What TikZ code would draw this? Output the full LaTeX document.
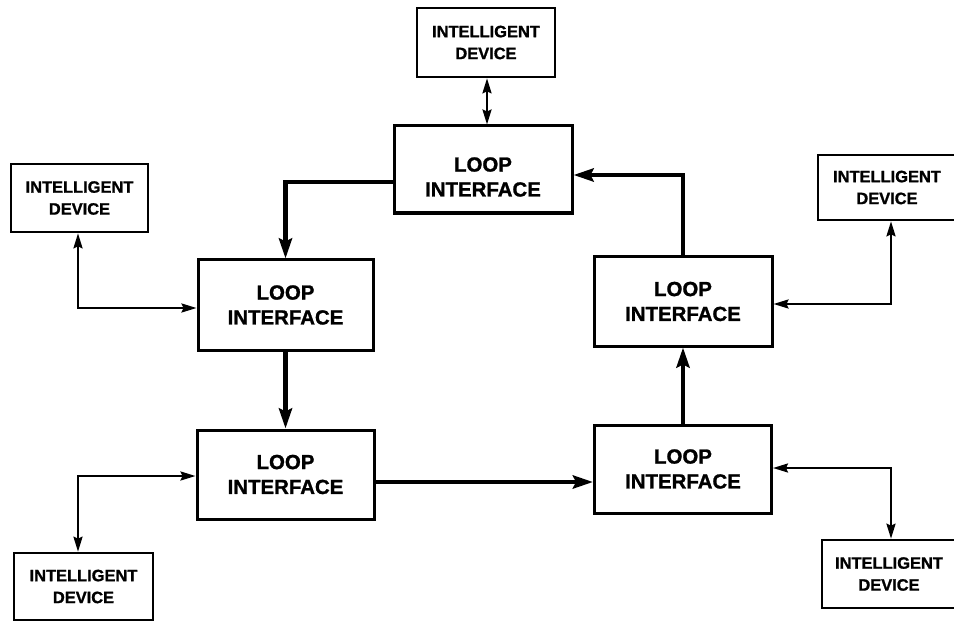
\documentclass[tikz,border=0pt]{standalone}
\usepackage{fontspec}
\setmainfont{Liberation Sans}[BoldFeatures={FakeBold=1.2}]
\usetikzlibrary{arrows.meta}
\begin{document}
\begin{tikzpicture}[x=1bp,y=-1bp,
 loopbox/.style={draw, line width=3bp, align=center, inner sep=0pt, font=\bfseries\fontsize{20.5}{25}\selectfont},
 looptext/.style={align=center, inner sep=0pt, font=\bfseries\fontsize{20.5}{25}\selectfont},
 devbox/.style={draw, line width=2.6bp, align=center, inner sep=0pt, font=\bfseries\fontsize{16.5}{22}\selectfont},
 ring/.style={line width=4.6bp, -{Stealth[length=20bp,width=13bp,inset=3bp]}},
 link/.style={line width=2.3bp, {Stealth[length=15bp,width=9bp,inset=2bp]}-{Stealth[length=15bp,width=9bp,inset=2bp]}}]
\useasboundingbox (0,0) rectangle (954,621);
\fill[white] (0,0) rectangle (954,621);
% loop interfaces
\node[loopbox, minimum width=178bp, minimum height=87bp] (tloop) at (483,169.5) {};
\node[looptext] (tlooptxt) at (483,177) {LOOP\\INTERFACE};
\node[loopbox, minimum width=175bp, minimum height=90bp] (mleft) at (285.5,305) {LOOP\\INTERFACE};
\node[loopbox, minimum width=177bp, minimum height=89bp] (bleft) at (285.5,474.5) {LOOP\\INTERFACE};
\node[loopbox, minimum width=178bp, minimum height=89bp] (mright) at (683,301.5) {LOOP\\INTERFACE};
\node[loopbox, minimum width=177bp, minimum height=88bp] (bright) at (683,469) {LOOP\\INTERFACE};
% intelligent devices
\node[devbox, minimum width=138bp, minimum height=69bp] (tdev) at (486,42.5) {INTELLIGENT\\DEVICE};
\node[devbox, minimum width=137bp, minimum height=68bp] (ldev) at (79.5,198) {INTELLIGENT\\DEVICE};
\node[devbox, minimum width=139bp, minimum height=67bp] (bldev) at (83.5,586.5) {INTELLIGENT\\DEVICE};
\node[devbox, minimum width=138bp, minimum height=65bp] (rdev) at (887,187.5) {INTELLIGENT\\DEVICE};
\node[devbox, minimum width=134bp, minimum height=68bp] (brdev) at (889,574) {INTELLIGENT\\DEVICE};
% helper coordinates
\coordinate (h1) at (0,182);
\coordinate (h2) at (0,482);
\coordinate (h3) at (0,175);
\coordinate (v1) at (78,0);
\coordinate (h4) at (0,308);
\coordinate (h5) at (0,476);
\coordinate (v2) at (891,0);
\coordinate (h6) at (0,304);
\coordinate (h7) at (0,468);
\coordinate (v3) at (487,0);
% loop ring
\draw[ring] (tloop.west |- h1) -| (mleft.north);
\draw[ring] (mleft.south) -- (bleft.north);
\draw[ring] (bleft.east |- h2) -- (bright.west |- h2);
\draw[ring] (bright.north) -- (mright.south);
\draw[ring] (mright.north) |- (tloop.east |- h3);
% device links
\draw[link] (tdev.south -| v3) -- (tloop.north -| v3);
\draw[link] (ldev.south -| v1) |- (mleft.west |- h4);
\draw[link] (bldev.north -| v1) |- (bleft.west |- h5);
\draw[link] (rdev.south -| v2) |- (mright.east |- h6);
\draw[link] (bright.east |- h7) -| (brdev.north -| v2);
\end{tikzpicture}
\end{document}
